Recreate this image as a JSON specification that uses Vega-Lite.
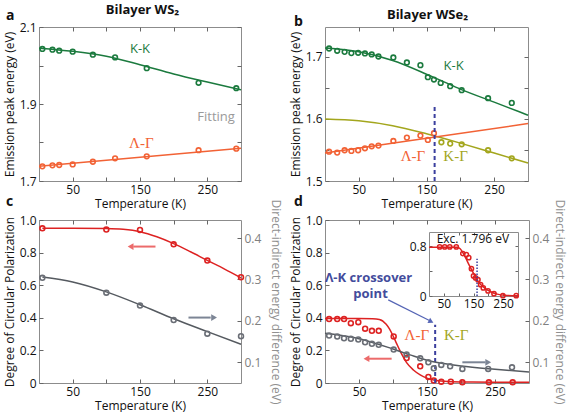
{
  "$schema": "https://vega.github.io/schema/vega-lite/v6.json",
  "background": "white",
  "padding": {"left": 2, "top": 3, "right": 2, "bottom": 0},
  "config": {
    "font": "Open Sans",
    "view": {"stroke": "#8c8c8c", "strokeWidth": 1},
    "axis": {"domain": false, "grid": false, "tickSize": -4, "tickColor": "#666", "tickWidth": 1, "tickCount": 12, "labelPadding": 7, "labelFontSize": 12, "labelColor": "#111", "labelOverlap": false, "titleFontSize": 12, "titleFontWeight": "normal", "titleColor": "#111", "titlePadding": 3},
    "title": {"font": "Open Sans", "color": "#111"}
  },
  "datasets": {
    "aKK": [{"T":5,"E":2.043},{"T":20,"E":2.041},{"T":30,"E":2.0385},{"T":50,"E":2.036},{"T":80,"E":2.028},{"T":113,"E":2.021},{"T":160,"E":1.993},{"T":237,"E":1.955},{"T":293,"E":1.941}],
    "aKKfit": [{"T":0,"E":2.045},{"T":50,"E":2.037},{"T":100,"E":2.024},{"T":150,"E":2.002},{"T":200,"E":1.978},{"T":250,"E":1.957},{"T":300,"E":1.937}],
    "aLG": [{"T":5,"E":1.738},{"T":20,"E":1.7407},{"T":30,"E":1.7416},{"T":50,"E":1.743},{"T":80,"E":1.75},{"T":113,"E":1.759},{"T":160,"E":1.764},{"T":237,"E":1.78},{"T":293,"E":1.784}],
    "aLGfit": [{"T":0,"E":1.738},{"T":150,"E":1.7615},{"T":300,"E":1.785}],
    "bKK": [{"T":6,"E":1.7134},{"T":18,"E":1.7097},{"T":29,"E":1.708},{"T":39,"E":1.706},{"T":49,"E":1.7065},{"T":59,"E":1.7054},{"T":69,"E":1.7038},{"T":79,"E":1.7005},{"T":101,"E":1.699},{"T":121,"E":1.6909},{"T":141,"E":1.6866},{"T":152,"E":1.6672},{"T":161,"E":1.6634},{"T":171,"E":1.658},{"T":185,"E":1.6527},{"T":202,"E":1.6462},{"T":241,"E":1.6333},{"T":276,"E":1.6258}],
    "bKKfit": [{"T":0,"E":1.714},{"T":50,"E":1.708},{"T":100,"E":1.694},{"T":150,"E":1.672},{"T":175,"E":1.66},{"T":200,"E":1.648},{"T":250,"E":1.627},{"T":300,"E":1.606}],
    "bLG": [{"T":6,"E":1.5473},{"T":18,"E":1.5457},{"T":29,"E":1.5495},{"T":39,"E":1.5484},{"T":49,"E":1.5495},{"T":59,"E":1.5527},{"T":69,"E":1.5559},{"T":79,"E":1.557},{"T":101,"E":1.5645},{"T":121,"E":1.5699},{"T":141,"E":1.5731},{"T":152,"E":1.5661},{"T":161,"E":1.5769}],
    "bLGfit": [{"T":0,"E":1.545},{"T":150,"E":1.5688},{"T":300,"E":1.5925}],
    "bKG": [{"T":172,"E":1.5624},{"T":185,"E":1.5602},{"T":202,"E":1.5591},{"T":241,"E":1.5495},{"T":276,"E":1.5366}],
    "bKGfit": [{"T":0,"E":1.6},{"T":50,"E":1.597},{"T":100,"E":1.589},{"T":150,"E":1.576},{"T":200,"E":1.561},{"T":250,"E":1.545},{"T":300,"E":1.529}],
    "cP": [{"T":5,"V":0.949},{"T":100,"V":0.941},{"T":150,"V":0.939},{"T":200,"V":0.851},{"T":250,"V":0.751},{"T":300,"V":0.649}],
    "cPfit": [{"T":5,"V":0.95},{"T":50,"V":0.95},{"T":100,"V":0.948},{"T":125,"V":0.943},{"T":150,"V":0.928},{"T":175,"V":0.897},{"T":200,"V":0.855},{"T":225,"V":0.805},{"T":250,"V":0.752},{"T":275,"V":0.7},{"T":300,"V":0.645}],
    "cE": [{"T":5,"E":0.304},{"T":100,"E":0.268},{"T":150,"E":0.237},{"T":200,"E":0.202},{"T":250,"E":0.169},{"T":300,"E":0.163}],
    "cEfit": [{"T":5,"E":0.306},{"T":50,"E":0.294},{"T":100,"E":0.27},{"T":150,"E":0.239},{"T":200,"E":0.205},{"T":250,"E":0.174},{"T":300,"E":0.1435}],
    "dP": [{"T":6,"V":0.392},{"T":18,"V":0.392},{"T":28,"V":0.392},{"T":38,"V":0.367},{"T":49,"V":0.373},{"T":59,"V":0.333},{"T":69,"V":0.32},{"T":79,"V":0.32},{"T":101,"V":0.286},{"T":120,"V":0.153},{"T":140,"V":0.102},{"T":152,"V":0.037},{"T":160,"V":0.016},{"T":171,"V":0.008},{"T":185,"V":0.008},{"T":202,"V":0.004},{"T":241,"V":0.004},{"T":276,"V":0.004}],
    "dPfit": [{"T":0,"V":0.395},{"T":25,"V":0.395},{"T":50,"V":0.395},{"T":70,"V":0.394},{"T":80,"V":0.39},{"T":90,"V":0.36},{"T":95,"V":0.33},{"T":100,"V":0.29},{"T":105,"V":0.245},{"T":110,"V":0.2},{"T":115,"V":0.16},{"T":120,"V":0.125},{"T":130,"V":0.08},{"T":140,"V":0.05},{"T":150,"V":0.03},{"T":160,"V":0.018},{"T":175,"V":0.01},{"T":200,"V":0.006},{"T":250,"V":0.005},{"T":300,"V":0.005}],
    "dE": [{"T":6,"E":0.1646},{"T":18,"E":0.1622},{"T":28,"E":0.1581},{"T":38,"E":0.1566},{"T":49,"E":0.155},{"T":59,"E":0.1484},{"T":69,"E":0.1445},{"T":79,"E":0.1421},{"T":101,"E":0.1307},{"T":120,"E":0.1186},{"T":140,"E":0.1097},{"T":152,"E":0.1},{"T":160,"E":0.0855},{"T":171,"E":0.0937},{"T":184,"E":0.0903},{"T":202,"E":0.084},{"T":240,"E":0.084},{"T":275,"E":0.0879}],
    "dEfit": [{"T":0,"E":0.17},{"T":50,"E":0.157},{"T":100,"E":0.132},{"T":125,"E":0.118},{"T":150,"E":0.105},{"T":175,"E":0.097},{"T":200,"E":0.091},{"T":250,"E":0.083},{"T":300,"E":0.0765}],
    "inP": [{"T":36,"V":0.79},{"T":53,"V":0.79},{"T":70,"V":0.79},{"T":92,"V":0.79},{"T":114,"V":0.682},{"T":126,"V":0.666},{"T":134,"V":0.617},{"T":143,"V":0.44},{"T":150,"V":0.322},{"T":157,"V":0.29},{"T":165,"V":0.263},{"T":174,"V":0.183},{"T":183,"V":0.129},{"T":199,"V":0.081},{"T":219,"V":0.038},{"T":249,"V":0.005},{"T":294,"V":0.005}],
    "inPfit": [{"T":0,"V":0.785},{"T":50,"V":0.785},{"T":95,"V":0.783},{"T":105,"V":0.76},{"T":115,"V":0.69},{"T":125,"V":0.6},{"T":135,"V":0.5},{"T":145,"V":0.41},{"T":155,"V":0.32},{"T":165,"V":0.24},{"T":175,"V":0.18},{"T":190,"V":0.12},{"T":210,"V":0.065},{"T":230,"V":0.03},{"T":255,"V":0.011},{"T":300,"V":0.003}]
  },
  "spacing": 5,
  "hconcat": [
    {
      "title": {"text": "Bilayer WS₂", "fontSize": 13, "fontWeight": "bold", "anchor": "middle", "dy": 12},
      "bounds": "flush",
      "spacing": 39,
      "vconcat": [
        {
          "title": {"text": "a", "anchor": "start", "frame": "group", "dx": -33, "offset": -2, "fontSize": 14, "fontWeight": "bold"},
          "width": 202, "height": 154,
          "resolve": {"scale": {"x": "independent", "y": "independent"}},
          "layer": [
            {
              "layer": [
                {"data": {"name": "aKKfit"}, "mark": {"type": "line", "color": "#1b7a3e", "strokeWidth": 1.5, "interpolate": "monotone"},
                 "encoding": {
                   "x": {"field": "T", "type": "quantitative", "scale": {"domain": [0, 300], "nice": false}, "axis": {"title": "Temperature (K)", "orient": "bottom", "tickCount": 12, "values": [50, 100, 150, 200, 250], "labelExpr": "datum.value % 100 == 50 ? datum.label : ''"}},
                   "y": {"field": "E", "type": "quantitative", "scale": {"domain": [1.7, 2.1], "nice": false, "zero": false}, "axis": {"title": "Emission peak energy (eV)", "orient": "left", "tickCount": 12, "values": [1.7, 1.8, 1.9, 2.0, 2.1], "format": ".1f", "labelExpr": "(datum.value == 1.8 || datum.value == 2) ? '' : datum.label"}}
                 }},
                {"data": {"name": "aKK"}, "mark": {"type": "point", "shape": "circle", "filled": false, "color": "#1b7a3e", "strokeWidth": 1.6, "size": 22, "opacity": 1},
                 "encoding": {"x": {"field": "T", "type": "quantitative"}, "y": {"field": "E", "type": "quantitative"}}},
                {"data": {"values": [{"T": 150, "E": 2.043, "label": "K-K"}]}, "mark": {"type": "text", "color": "#1b7a3e", "fontSize": 13},
                 "encoding": {"x": {"field": "T", "type": "quantitative"}, "y": {"field": "E", "type": "quantitative"}, "text": {"field": "label"}}},
                {"data": {"values": [{"T": 263, "E": 1.866, "label": "Fitting"}]}, "mark": {"type": "text", "color": "#9a9a9a", "fontSize": 13},
                 "encoding": {"x": {"field": "T", "type": "quantitative"}, "y": {"field": "E", "type": "quantitative"}, "text": {"field": "label"}}}
              ]
            },
            {
              "layer": [
                {"data": {"name": "aLGfit"}, "mark": {"type": "line", "color": "#f26235", "strokeWidth": 1.5},
                 "encoding": {
                   "x": {"field": "T", "type": "quantitative", "scale": {"domain": [0, 300], "nice": false}, "axis": {"title": null, "orient": "top", "tickCount": 12, "values": [50, 100, 150, 200, 250], "labels": false}},
                   "y": {"field": "E", "type": "quantitative", "scale": {"domain": [1.7, 2.1], "nice": false, "zero": false}, "axis": {"title": null, "orient": "right", "tickCount": 12, "values": [1.7, 1.8, 1.9, 2.0, 2.1], "labels": false}}
                 }},
                {"data": {"name": "aLG"}, "mark": {"type": "point", "shape": "circle", "filled": false, "color": "#f26235", "strokeWidth": 1.6, "size": 22, "opacity": 1},
                 "encoding": {"x": {"field": "T", "type": "quantitative"}, "y": {"field": "E", "type": "quantitative"}}},
                {"data": {"values": [{"T": 152, "E": 1.8, "label": "Λ-Γ"}]}, "mark": {"type": "text", "color": "#f26235", "fontSize": 15, "font": "Liberation Serif"},
                 "encoding": {"x": {"field": "T", "type": "quantitative"}, "y": {"field": "E", "type": "quantitative"}, "text": {"field": "label"}}}
              ]
            }
          ]
        },
        {
          "title": {"text": "c", "anchor": "start", "frame": "group", "dx": -33, "offset": -10, "fontSize": 14, "fontWeight": "bold"},
          "width": 202, "height": 163,
          "resolve": {"scale": {"x": "independent", "y": "independent"}},
          "layer": [
            {
              "layer": [
                {"data": {"name": "cPfit"}, "mark": {"type": "line", "color": "#dd2222", "strokeWidth": 1.5, "interpolate": "monotone"},
                 "encoding": {
                   "x": {"field": "T", "type": "quantitative", "scale": {"domain": [0, 300], "nice": false}, "axis": {"title": "Temperature (K)", "orient": "bottom", "tickCount": 12, "values": [50, 100, 150, 200, 250], "labelExpr": "datum.value % 100 == 50 ? datum.label : ''"}},
                   "y": {"field": "V", "type": "quantitative", "scale": {"domain": [0, 1], "nice": false}, "axis": {"title": "Degree of Circular Polarization", "orient": "left", "tickCount": 12, "values": [0, 0.2, 0.4, 0.6, 0.8, 1.0], "labelExpr": "datum.value == 0 ? '0' : format(datum.value, '.1f')"}}
                 }},
                {"data": {"name": "cP"}, "mark": {"type": "point", "shape": "circle", "filled": false, "color": "#dd2222", "strokeWidth": 1.6, "size": 24, "opacity": 1},
                 "encoding": {"x": {"field": "T", "type": "quantitative"}, "y": {"field": "V", "type": "quantitative"}}},
                {"data": {"values": [{"T": 173, "T2": 140, "V": 0.837}]}, "mark": {"type": "rule", "color": "#ec6b6b", "strokeWidth": 2},
                 "encoding": {"x": {"field": "T", "type": "quantitative"}, "x2": {"field": "T2"}, "y": {"field": "V", "type": "quantitative"}}},
                {"data": {"values": [{"T": 136, "V": 0.837}]}, "mark": {"type": "point", "shape": "triangle-left", "filled": true, "color": "#ec6b6b", "size": 45, "opacity": 1},
                 "encoding": {"x": {"field": "T", "type": "quantitative"}, "y": {"field": "V", "type": "quantitative"}}}
              ]
            },
            {
              "layer": [
                {"data": {"name": "cEfit"}, "mark": {"type": "line", "color": "#555a60", "strokeWidth": 1.5, "interpolate": "monotone"},
                 "encoding": {
                   "x": {"field": "T", "type": "quantitative", "scale": {"domain": [0, 300], "nice": false}, "axis": {"title": null, "orient": "top", "tickCount": 12, "values": [50, 100, 150, 200, 250], "labels": false}},
                   "y": {"field": "E", "type": "quantitative", "scale": {"domain": [0.05, 0.4436], "nice": false, "zero": false}, "axis": {"title": "Direct-indirect energy difference (eV)", "orient": "right", "tickCount": 12, "values": [0.1, 0.2, 0.3, 0.4], "format": ".1f", "labelColor": "#808080", "titleColor": "#909090", "titleFontSize": 12, "titlePadding": 8}}
                 }},
                {"data": {"name": "cE"}, "mark": {"type": "point", "shape": "circle", "filled": false, "color": "#6a6e76", "strokeWidth": 1.6, "size": 24, "opacity": 1},
                 "encoding": {"x": {"field": "T", "type": "quantitative"}, "y": {"field": "E", "type": "quantitative"}}},
                {"data": {"values": [{"T": 222, "T2": 255, "E": 0.208}]}, "mark": {"type": "rule", "color": "#7c8595", "strokeWidth": 2},
                 "encoding": {"x": {"field": "T", "type": "quantitative"}, "x2": {"field": "T2"}, "y": {"field": "E", "type": "quantitative"}}},
                {"data": {"values": [{"T": 260, "E": 0.208}]}, "mark": {"type": "point", "shape": "triangle-right", "filled": true, "color": "#7c8595", "size": 45, "opacity": 1},
                 "encoding": {"x": {"field": "T", "type": "quantitative"}, "y": {"field": "E", "type": "quantitative"}}}
              ]
            }
          ]
        }
      ]
    },
    {
      "title": {"text": "Bilayer WSe₂", "fontSize": 13, "fontWeight": "bold", "anchor": "middle", "dy": 12},
      "bounds": "flush",
      "spacing": 39,
      "vconcat": [
        {
          "title": {"text": "b", "anchor": "start", "frame": "group", "dx": -31, "offset": -2, "fontSize": 14, "fontWeight": "bold"},
          "width": 203, "height": 154,
          "resolve": {"scale": {"x": "independent", "y": "independent"}},
          "layer": [
            {
              "layer": [
                {"data": {"name": "bKKfit"}, "mark": {"type": "line", "color": "#1b7a3e", "strokeWidth": 1.5, "interpolate": "monotone"},
                 "encoding": {
                   "x": {"field": "T", "type": "quantitative", "scale": {"domain": [0, 300], "nice": false}, "axis": {"title": "Temperature (K)", "orient": "bottom", "tickCount": 12, "values": [50, 100, 150, 200, 250], "labelExpr": "datum.value % 100 == 50 ? datum.label : ''"}},
                   "y": {"field": "E", "type": "quantitative", "scale": {"domain": [1.5, 1.748], "nice": false, "zero": false}, "axis": {"title": "Emission peak energy (eV)", "orient": "left", "tickCount": 12, "values": [1.5, 1.55, 1.6, 1.65, 1.7], "format": ".1f", "labelExpr": "(datum.value == 1.55 || datum.value == 1.65) ? '' : datum.label"}}
                 }},
                {"data": {"name": "bKK"}, "mark": {"type": "point", "shape": "circle", "filled": false, "color": "#1b7a3e", "strokeWidth": 1.6, "size": 22, "opacity": 1},
                 "encoding": {"x": {"field": "T", "type": "quantitative"}, "y": {"field": "E", "type": "quantitative"}}},
                {"data": {"name": "bKGfit"}, "mark": {"type": "line", "color": "#a3a61d", "strokeWidth": 1.5, "interpolate": "monotone"},
                 "encoding": {"x": {"field": "T", "type": "quantitative"}, "y": {"field": "E", "type": "quantitative"}}},
                {"data": {"name": "bKG"}, "mark": {"type": "point", "shape": "circle", "filled": false, "color": "#a3a61d", "strokeWidth": 1.6, "size": 22, "opacity": 1},
                 "encoding": {"x": {"field": "T", "type": "quantitative"}, "y": {"field": "E", "type": "quantitative"}}},
                {"data": {"values": [{"T": 190, "E": 1.6855, "label": "K-K"}]}, "mark": {"type": "text", "color": "#1b7a3e", "fontSize": 13},
                 "encoding": {"x": {"field": "T", "type": "quantitative"}, "y": {"field": "E", "type": "quantitative"}, "text": {"field": "label"}}},
                {"data": {"values": [{"T": 193, "E": 1.54, "label": "K-Γ"}]}, "mark": {"type": "text", "color": "#a3a61d", "fontSize": 15, "font": "Liberation Serif"},
                 "encoding": {"x": {"field": "T", "type": "quantitative"}, "y": {"field": "E", "type": "quantitative"}, "text": {"field": "label"}}}
              ]
            },
            {
              "layer": [
                {"data": {"name": "bLGfit"}, "mark": {"type": "line", "color": "#f26235", "strokeWidth": 1.5},
                 "encoding": {
                   "x": {"field": "T", "type": "quantitative", "scale": {"domain": [0, 300], "nice": false}, "axis": {"title": null, "orient": "top", "tickCount": 12, "values": [50, 100, 150, 200, 250], "labels": false}},
                   "y": {"field": "E", "type": "quantitative", "scale": {"domain": [1.5, 1.748], "nice": false, "zero": false}, "axis": {"title": null, "orient": "right", "tickCount": 12, "values": [1.5, 1.55, 1.6, 1.65, 1.7], "labels": false}}
                 }},
                {"data": {"name": "bLG"}, "mark": {"type": "point", "shape": "circle", "filled": false, "color": "#f26235", "strokeWidth": 1.6, "size": 22, "opacity": 1},
                 "encoding": {"x": {"field": "T", "type": "quantitative"}, "y": {"field": "E", "type": "quantitative"}}},
                {"data": {"values": [{"T": 162, "E": 1.5, "E2": 1.624}]}, "mark": {"type": "rule", "color": "#3b3f9e", "strokeWidth": 2, "strokeDash": [4, 3]},
                 "encoding": {"x": {"field": "T", "type": "quantitative"}, "y": {"field": "E", "type": "quantitative"}, "y2": {"field": "E2"}}},
                {"data": {"values": [{"T": 130, "E": 1.54, "label": "Λ-Γ"}]}, "mark": {"type": "text", "color": "#f26235", "fontSize": 15, "font": "Liberation Serif"},
                 "encoding": {"x": {"field": "T", "type": "quantitative"}, "y": {"field": "E", "type": "quantitative"}, "text": {"field": "label"}}}
              ]
            }
          ]
        },
        {
          "title": {"text": "d", "anchor": "start", "frame": "group", "dx": -31, "offset": -10, "fontSize": 14, "fontWeight": "bold"},
          "width": 204, "height": 163,
          "resolve": {"scale": {"x": "independent", "y": "independent"}},
          "layer": [
            {
              "layer": [
                {"data": {"name": "dPfit"}, "mark": {"type": "line", "color": "#dd2222", "strokeWidth": 1.5, "interpolate": "monotone"},
                 "encoding": {
                   "x": {"field": "T", "type": "quantitative", "scale": {"domain": [0, 300], "nice": false}, "axis": {"title": "Temperature (K)", "orient": "bottom", "tickCount": 12, "values": [50, 100, 150, 200, 250], "labelExpr": "datum.value % 100 == 50 ? datum.label : ''"}},
                   "y": {"field": "V", "type": "quantitative", "scale": {"domain": [0, 1], "nice": false}, "axis": {"title": "Degree of Circular Polarization", "orient": "left", "tickCount": 12, "values": [0, 0.2, 0.4, 0.6, 0.8, 1.0], "labelExpr": "datum.value == 0 ? '0' : format(datum.value, '.1f')"}}
                 }},
                {"data": {"name": "dP"}, "mark": {"type": "point", "shape": "circle", "filled": false, "color": "#dd2222", "strokeWidth": 1.6, "size": 24, "opacity": 1},
                 "encoding": {"x": {"field": "T", "type": "quantitative"}, "y": {"field": "V", "type": "quantitative"}}},
                {"data": {"values": [{"T": 162, "V": 0, "V2": 0.357}]}, "mark": {"type": "rule", "color": "#3b3f9e", "strokeWidth": 2, "strokeDash": [4, 3]},
                 "encoding": {"x": {"field": "T", "type": "quantitative"}, "y": {"field": "V", "type": "quantitative"}, "y2": {"field": "V2"}}},
                {"data": {"values": [{"T": 98, "T2": 64, "V": 0.149}]}, "mark": {"type": "rule", "color": "#ec6b6b", "strokeWidth": 2},
                 "encoding": {"x": {"field": "T", "type": "quantitative"}, "x2": {"field": "T2"}, "y": {"field": "V", "type": "quantitative"}}},
                {"data": {"values": [{"T": 61, "V": 0.149}]}, "mark": {"type": "point", "shape": "triangle-left", "filled": true, "color": "#ec6b6b", "size": 45, "opacity": 1},
                 "encoding": {"x": {"field": "T", "type": "quantitative"}, "y": {"field": "V", "type": "quantitative"}}},
                {"data": {"values": [{"T": 93, "V": 0.51, "T2": 155, "V2": 0.38}]}, "mark": {"type": "rule", "color": "#5565b5", "strokeWidth": 1.2},
                 "encoding": {"x": {"field": "T", "type": "quantitative"}, "y": {"field": "V", "type": "quantitative"}, "x2": {"field": "T2"}, "y2": {"field": "V2"}}},
                {"data": {"values": [{"T": 156, "V": 0.377}]}, "mark": {"type": "point", "shape": "triangle-right", "filled": true, "color": "#5565b5", "size": 35, "angle": 27, "opacity": 1},
                 "encoding": {"x": {"field": "T", "type": "quantitative"}, "y": {"field": "V", "type": "quantitative"}}},
                {"data": {"values": [{"T": 64, "V": 0.643, "label": "Λ-K crossover"}, {"T": 67, "V": 0.545, "label": "point"}]}, "mark": {"type": "text", "color": "#434c9c", "fontSize": 13, "fontWeight": "bold"},
                 "encoding": {"x": {"field": "T", "type": "quantitative"}, "y": {"field": "V", "type": "quantitative"}, "text": {"field": "label"}}},
                {"data": {"values": [{"T": 135, "V": 0.296, "label": "Λ-Γ"}]}, "mark": {"type": "text", "color": "#f26235", "fontSize": 15, "font": "Liberation Serif"},
                 "encoding": {"x": {"field": "T", "type": "quantitative"}, "y": {"field": "V", "type": "quantitative"}, "text": {"field": "label"}}},
                {"data": {"values": [{"T": 193, "V": 0.296, "label": "K-Γ"}]}, "mark": {"type": "text", "color": "#a3a61d", "fontSize": 15, "font": "Liberation Serif"},
                 "encoding": {"x": {"field": "T", "type": "quantitative"}, "y": {"field": "V", "type": "quantitative"}, "text": {"field": "label"}}}
              ]
            },
            {
              "layer": [
                {"data": {"name": "dEfit"}, "mark": {"type": "line", "color": "#555a60", "strokeWidth": 1.5, "interpolate": "monotone"},
                 "encoding": {
                   "x": {"field": "T", "type": "quantitative", "scale": {"domain": [0, 300], "nice": false}, "axis": {"title": null, "orient": "top", "tickCount": 12, "values": [50, 100, 150, 200, 250], "labels": false}},
                   "y": {"field": "E", "type": "quantitative", "scale": {"domain": [0.05, 0.4436], "nice": false, "zero": false}, "axis": {"title": "Direct-indirect energy difference (eV)", "orient": "right", "tickCount": 12, "values": [0.1, 0.2, 0.3, 0.4], "format": ".1f", "labelColor": "#808080", "titleColor": "#909090", "titleFontSize": 12, "titlePadding": 4}}
                 }},
                {"data": {"name": "dE"}, "mark": {"type": "point", "shape": "circle", "filled": false, "color": "#6a6e76", "strokeWidth": 1.6, "size": 24, "opacity": 1},
                 "encoding": {"x": {"field": "T", "type": "quantitative"}, "y": {"field": "E", "type": "quantitative"}}},
                {"data": {"values": [{"T": 202, "T2": 236, "E": 0.1}]}, "mark": {"type": "rule", "color": "#7c8595", "strokeWidth": 2},
                 "encoding": {"x": {"field": "T", "type": "quantitative"}, "x2": {"field": "T2"}, "y": {"field": "E", "type": "quantitative"}}},
                {"data": {"values": [{"T": 240, "E": 0.1}]}, "mark": {"type": "point", "shape": "triangle-right", "filled": true, "color": "#7c8595", "size": 45, "opacity": 1},
                 "encoding": {"x": {"field": "T", "type": "quantitative"}, "y": {"field": "E", "type": "quantitative"}}}
              ]
            },
            {
              "layer": [
                {"data": {"name": "inPfit"}, "mark": {"type": "line", "color": "#dd2222", "strokeWidth": 1.5, "interpolate": "monotone"},
                 "encoding": {
                   "x": {"field": "T", "type": "quantitative", "scale": {"domain": [0, 300], "nice": false, "range": [104, 193]}, "axis": {"title": null, "orient": "bottom", "offset": -87, "domain": true, "domainColor": "#8c8c8c", "tickCount": 12, "values": [50, 100, 150, 200, 250], "labelExpr": "datum.value % 100 == 50 ? datum.label : ''", "tickSize": -3, "labelPadding": 5}},
                   "y": {"field": "V", "type": "quantitative", "scale": {"domain": [0, 1.03], "nice": false, "range": [76, 12]}, "axis": {"title": null, "orient": "left", "offset": -104, "domain": true, "domainColor": "#8c8c8c", "tickCount": 12, "values": [0, 0.4, 0.8], "labelExpr": "datum.value == 0 ? '0' : (datum.value == 0.8 ? '0.8' : '')", "tickSize": -3, "labelPadding": 6}}
                 }},
                {"data": {"name": "inP"}, "mark": {"type": "point", "shape": "circle", "filled": false, "color": "#dd2222", "strokeWidth": 1.5, "size": 18, "opacity": 1},
                 "encoding": {"x": {"field": "T", "type": "quantitative"}, "y": {"field": "V", "type": "quantitative"}}}
              ]
            },
            {
              "layer": [
                {"data": {"values": [{"T": 162, "V": 0, "V2": 0.6}]}, "mark": {"type": "rule", "color": "#3b3f9e", "strokeWidth": 1.5, "strokeDash": [1.5, 1.5]},
                 "encoding": {
                   "x": {"field": "T", "type": "quantitative", "scale": {"domain": [0, 300], "nice": false, "range": [104, 193]}, "axis": {"title": null, "orient": "top", "offset": -12, "domain": true, "domainColor": "#8c8c8c", "tickCount": 12, "values": [50, 100, 150, 200, 250], "labels": false, "tickSize": -3}},
                   "y": {"field": "V", "type": "quantitative", "scale": {"domain": [0, 1.03], "nice": false, "range": [76, 12]}, "axis": {"title": null, "orient": "right", "offset": -11, "domain": true, "domainColor": "#8c8c8c", "tickCount": 12, "values": [0, 0.4, 0.8], "labels": false, "tickSize": -3}},
                   "y2": {"field": "V2"}
                 }},
                {"data": {"values": [{"T": 148, "V": 0.91, "label": "Exc. 1.796 eV"}]}, "mark": {"type": "text", "color": "#111", "fontSize": 12},
                 "encoding": {"x": {"field": "T", "type": "quantitative"}, "y": {"field": "V", "type": "quantitative"}, "text": {"field": "label"}}}
              ]
            }
          ]
        }
      ]
    }
  ]
}
